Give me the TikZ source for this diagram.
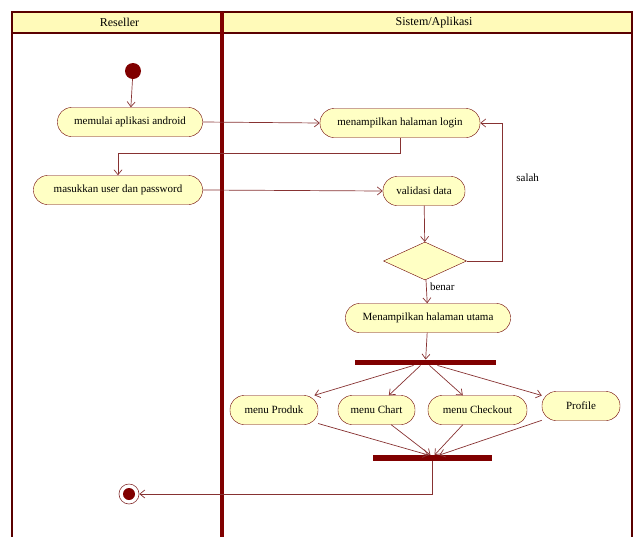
\documentclass[tikz,border=0pt]{standalone}
\usepackage{fontspec}
\setmainfont{Liberation Serif}
\usepackage{tikz}
\usetikzlibrary{positioning, shapes.geometric, arrows.meta}

\definecolor{umlred}{RGB}{128,0,0}
\definecolor{flowclr}{RGB}{135,50,50}
\definecolor{actfill}{RGB}{255,255,196}
\definecolor{headfill}{RGB}{255,250,185}

\tikzset{
  act/.style={draw=umlred!85!black, fill=actfill, rounded corners=14pt, minimum height=29pt, inner sep=0pt},
  decision/.style={diamond, draw=umlred!85!black, fill=actfill, minimum width=83pt, minimum height=38pt, inner sep=0pt},
  bar/.style={rectangle, fill=umlred, minimum height=5.5pt, inner sep=0pt},
  startdot/.style={circle, fill=umlred, minimum size=16pt, inner sep=0pt},
  enddot/.style={circle, draw=flowclr, line width=0.6pt, minimum size=20pt, inner sep=0pt,
    path picture={\fill[umlred] (path picture bounding box.center) circle (6pt);}},
  flow/.style={draw=flowclr, line width=0.7pt, -{Straight Barb[length=5pt,width=8pt]}},
  lane/.style={draw=umlred!70!black, line width=1.2pt}
}

\begin{document}
\begin{tikzpicture}[x=1pt, y=-1pt, font=\fontsize{11}{13}\selectfont]
    \useasboundingbox (0,0) rectangle (635,536);

    % Draw swimlanes
    \draw[lane, fill=headfill] (12,12) rectangle (632,33);
    \draw[lane] (12,33) -- (12,540);
    \draw[lane] (632,33) -- (632,540);
    \draw[umlred, line width=3.5pt] (222,12) -- (222,540);
    \node[font=\fontsize{12}{14}\selectfont] (reseller) at (119.5,22.5) {Reseller};
    \node[font=\fontsize{12}{14}\selectfont] (sistem) at (434,22.5) {Sistem/Aplikasi};

    % Actions
    \node[startdot] (start) at (133,71) {};
    \node[act, minimum width=145pt] (launch) at (130,122) {memulai aplikasi android};
    \node[act, minimum width=169pt] (input) at (118,190) {masukkan user dan password};
    \node[act, minimum width=160pt] (login) at (400,123) {menampilkan halaman login};
    \node[act, minimum width=82pt] (valid) at (424,191) {validasi data};
    \node[decision] (check) at (425,261) {};
    \node[act, minimum width=165pt] (home) at (428,318) {Menampilkan halaman utama};
    \node[bar, minimum width=141pt] (fork) at (425.5,362.5) {};
    \foreach \n/\x/\w/\t in {prod/274/88/menu Produk, chart/376.5/77/menu Chart, chk/477.5/99/menu Checkout} {
      \node[act, minimum width=\w pt] (\n) at (\x,410) {\t};
    }
    \node[act, minimum width=78pt] (prof) at (581,406) {Profile};
    \node[bar, minimum width=119pt] (join) at (432.5,458) {};
    \node[enddot] (final) at (129,494) {};

    % Flows
    \draw[flow] (start) -- (launch);
    \draw[flow] (launch.east) -- (login.west);
    \draw[flow] (login.south) -- ++(0,16) -| (input.north);
    \draw[flow] (input.east) -- (valid.west);
    \draw[flow] (valid) -- (check);
    \draw[flow] (check.east) -- ++(36,0) |- node[pos=0.3, right=10pt] {salah} (login.east);
    \draw[flow] (check) -- node[pos=0.3, right] {benar} (home);
    \draw[flow] (home) -- (fork);
    \foreach \s/\t in {-12/prod.20, -5/chart.50, 4/chk.135, 12/prof.165} {
      \draw[flow] ([xshift=\s pt]fork.south) -- (\t);
    }
    \foreach \s/\t in {prod.-17/-4, chart.-45/-2, chk.-135/2, prof.-160/7} {
      \draw[flow] (\s) -- ([xshift=\t pt]join.north);
    }
    \draw[flow] (join.south) |- (final.east);
\end{tikzpicture}
\end{document}
